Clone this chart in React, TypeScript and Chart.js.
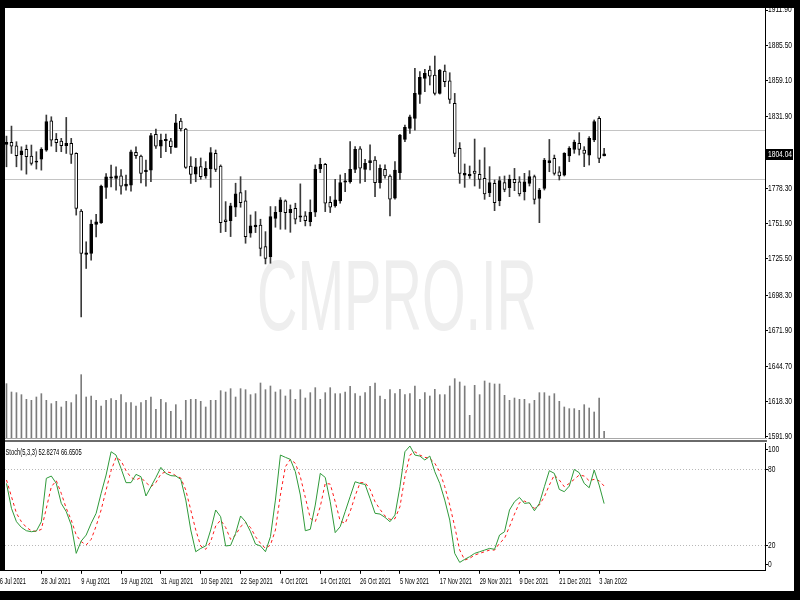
import React, { useEffect, useRef } from "react";
import { Chart, registerables } from "chart.js";
Chart.register(...registerables);

const FONT = "'Liberation Sans', Arial, sans-serif";

// Daily XAUUSD candles, 19 Jul 2021 .. 4 Jan 2022
const open = [1811.2,1812.7,1810.2,1803.4,1807.4,1802.4,1797.9,1800.2,1806.9,1828.9,1814.9,1813.7,1810.2,1811.9,1804.4,1761.2,1728.7,1729.4,1751.2,1752.4,1778.9,1785.9,1785.7,1787.7,1779.9,1780.7,1805.2,1802.4,1790.7,1791.9,1818.7,1809.9,1813.9,1813.9,1808.9,1828.7,1822.7,1794.9,1788.9,1794.5,1787.5,1792.8,1804.5,1795.0,1754.6,1754.1,1764.1,1775.1,1768.8,1744.6,1749.6,1750.8,1734.6,1727.1,1755.8,1760.8,1768.8,1760.1,1763.3,1756.6,1757.6,1753.3,1760.3,1792.8,1796.3,1767.8,1765.1,1768.8,1782.8,1783.3,1792.5,1807.8,1792.5,1797.5,1799.5,1782.5,1792.5,1787.5,1770.8,1790.0,1815.0,1823.2,1830.7,1848.7,1860.7,1866.9,1863.2,1849.4,1866.2,1858.9,1841.9,1808.2,1788.2,1787.5,1791.2,1788.7,1785.7,1775.0,1782.0,1769.0,1782.5,1778.7,1785.0,1783.2,1775.7,1782.0,1787.0,1770.7,1778.2,1797.5,1800.7,1790.7,1788.2,1802.5,1807.5,1812.0,1807.0,1803.2,1814.5,1830.7,1802.5];
const high = [1817.4,1824.9,1813.2,1809.4,1810.7,1810.7,1805.7,1808.7,1833.2,1831.9,1819.4,1815.7,1831.4,1815.7,1804.9,1762.4,1738.2,1754.4,1758.7,1780.7,1789.4,1795.7,1794.4,1792.4,1788.2,1806.9,1809.4,1803.2,1799.4,1819.4,1822.7,1818.9,1818.9,1815.7,1833.7,1830.7,1823.2,1801.9,1800.7,1801.0,1798.3,1808.8,1807.0,1795.8,1768.3,1767.1,1782.1,1787.0,1776.6,1758.3,1760.8,1755.1,1745.8,1764.6,1764.6,1771.3,1769.6,1765.8,1767.1,1781.6,1760.8,1769.6,1795.8,1800.8,1797.0,1772.1,1785.0,1788.3,1789.5,1813.3,1809.5,1809.5,1800.0,1810.8,1802.0,1795.8,1795.8,1788.3,1798.3,1818.7,1825.7,1833.2,1868.2,1865.7,1867.4,1869.9,1877.4,1867.4,1870.7,1864.9,1849.4,1812.5,1796.5,1795.0,1815.2,1799.5,1808.7,1794.5,1784.5,1787.0,1787.5,1788.2,1793.2,1787.0,1789.5,1791.5,1788.2,1778.2,1800.7,1814.9,1803.2,1794.5,1805.0,1809.5,1814.4,1820.0,1809.5,1817.0,1829.5,1832.0,1808.2];
const low = [1794.4,1804.4,1794.4,1791.9,1788.9,1795.7,1792.7,1791.9,1806.0,1809.9,1805.7,1805.7,1804.4,1796.9,1758.2,1681.9,1718.2,1724.4,1741.9,1751.9,1770.7,1779.4,1776.9,1773.9,1776.9,1776.2,1800.7,1782.4,1779.9,1783.2,1808.2,1801.2,1805.7,1804.4,1808.9,1821.2,1793.2,1781.9,1783.2,1785.0,1785.8,1779.0,1790.8,1745.1,1745.8,1742.1,1757.1,1764.1,1737.1,1741.6,1745.1,1727.6,1721.6,1722.1,1749.1,1747.6,1747.6,1745.3,1751.6,1753.3,1750.1,1750.1,1757.1,1790.0,1760.8,1760.1,1764.1,1767.1,1775.8,1782.1,1790.0,1782.1,1783.3,1792.0,1772.1,1778.3,1785.8,1757.6,1770.1,1785.0,1813.2,1819.5,1821.9,1841.9,1850.7,1855.7,1848.2,1848.9,1854.4,1841.9,1802.0,1782.0,1779.0,1785.7,1780.0,1778.2,1770.0,1772.0,1761.5,1765.2,1775.7,1772.0,1776.5,1772.5,1769.5,1780.0,1766.5,1752.5,1777.0,1790.7,1788.2,1784.5,1787.5,1798.2,1804.5,1803.2,1794.5,1795.7,1813.2,1797.5,1802.5];
const close = [1812.7,1809.9,1802.7,1806.4,1801.9,1796.9,1798.7,1807.4,1828.2,1814.4,1812.4,1810.2,1811.9,1803.7,1763.2,1729.4,1729.9,1751.4,1753.2,1779.9,1786.9,1786.9,1787.7,1779.9,1781.4,1805.7,1802.7,1789.4,1791.9,1817.7,1809.9,1814.4,1814.9,1809.4,1827.4,1822.7,1793.9,1788.7,1794.4,1787.0,1793.3,1805.0,1792.5,1752.6,1753.3,1765.1,1774.1,1767.6,1742.1,1750.1,1750.8,1733.3,1725.8,1757.1,1760.3,1769.6,1760.1,1762.6,1755.1,1757.6,1754.1,1760.3,1792.5,1796.3,1767.1,1764.1,1769.6,1782.5,1783.8,1792.5,1807.5,1793.3,1797.0,1799.0,1782.5,1793.3,1787.5,1770.1,1792.0,1818.2,1824.0,1831.9,1849.4,1861.4,1864.4,1862.4,1849.4,1866.9,1858.2,1844.9,1804.5,1789.5,1789.5,1788.7,1789.5,1785.0,1774.0,1782.5,1767.5,1784.0,1777.5,1785.0,1782.5,1774.0,1783.2,1787.0,1770.0,1777.0,1799.5,1799.0,1789.5,1787.5,1804.5,1808.2,1813.0,1807.5,1804.5,1815.7,1828.2,1800.7,1804.04];
const volume = [244500,207000,204000,195000,174000,169500,184500,199500,169500,154500,165000,139500,165000,159000,195000,285000,184500,189000,169500,144000,169500,177000,169500,195000,159000,159000,144000,159000,169500,184500,129000,174000,159000,120000,150000,79500,169500,174000,174000,165000,139500,169500,169500,213000,207000,222000,184500,222000,217500,195000,199500,247500,217500,234000,207000,217500,189000,217500,174000,217500,180000,204000,226500,174000,204000,226500,199500,199500,207000,232500,199500,189000,204000,232500,247500,189000,174000,217500,199500,219000,195000,199500,234000,174000,204000,189000,219000,195000,195000,234000,267000,252000,234000,102000,237000,195000,256500,247500,243000,243000,192000,169500,180000,174000,174000,154500,169500,204000,204000,189000,199500,165000,139500,132000,132000,124500,150000,135000,117000,180000,30000];
const stochMain = [68.7,49.1,38.6,34.1,31.5,30.7,31.3,38.6,72.7,74.5,68.7,53.0,46.5,36.0,13.7,23.4,28.1,37.3,45.2,60.9,75.3,93.6,91.0,80.5,69.3,69.3,75.8,74.0,58.8,66.1,73.4,81.3,76.6,74.8,74.5,71.9,55.6,32.1,15.0,17.6,19.5,32.1,47.8,42.5,19.5,20.0,29.4,43.1,38.6,30.7,21.0,19.5,15.0,26.8,55.6,91.0,89.2,87.6,77.9,59.6,31.5,32.6,51.7,76.6,73.4,54.3,30.0,34.7,46.5,58.3,70.0,68.7,67.9,56.9,45.2,44.6,42.0,38.6,43.8,66.1,93.6,98.1,91.0,90.2,87.1,90.2,77.9,68.7,55.6,39.9,13.7,6.6,9.0,11.1,13.7,15.0,16.3,17.6,16.9,28.1,30.7,47.8,54.3,57.7,53.0,53.5,47.2,53.0,66.1,78.7,76.6,64.0,62.2,66.6,79.7,77.1,68.7,65.3,79.2,67.4,52.8274];
const stochSignal = [71.4,58.3,45.2,38.6,34.1,31.5,31.0,32.6,49.1,66.1,70.8,60.9,49.1,39.9,28.1,22.9,20.3,24.7,35.2,47.8,63.5,78.7,89.2,86.5,78.7,73.4,71.4,73.4,69.3,66.1,69.3,76.1,77.9,77.1,74.8,72.9,63.5,47.8,32.1,19.5,16.9,22.9,35.2,39.9,34.1,24.7,28.1,34.7,37.8,34.1,26.8,21.6,17.6,20.3,32.1,59.6,81.8,87.6,84.5,74.0,57.7,41.2,38.6,50.4,68.7,68.2,54.3,39.1,37.3,46.5,58.8,69.3,69.3,64.0,54.3,48.3,43.1,40.4,41.0,50.4,74.0,91.0,93.6,91.0,89.2,88.4,84.5,77.9,66.1,51.7,34.7,16.3,8.5,9.8,12.4,13.7,15.0,16.3,16.3,21.6,25.5,34.7,44.6,53.5,54.8,53.0,49.1,51.7,58.3,67.4,75.3,71.4,66.1,68.7,71.9,75.3,74.5,70.8,71.9,70.8,66.6505];

const dateTickIndex = [-2,7,15,23,31,39,47,55,63,71,79,87,95,103,111,119];
const dateTickLabels = ["16 Jul 2021","28 Jul 2021","9 Aug 2021","19 Aug 2021","31 Aug 2021","10 Sep 2021","22 Sep 2021","4 Oct 2021","14 Oct 2021","26 Oct 2021","5 Nov 2021","17 Nov 2021","29 Nov 2021","9 Dec 2021","21 Dec 2021","3 Jan 2022"];
const priceTicks = [1591.9,1618.3,1644.7,1671.9,1698.3,1725.5,1751.9,1778.3,1831.9,1859.1,1885.5,1911.9];
const stochLevelValues = [5,20,80,95];
const stochLevelLabels = ["0","20","80","100"];
const horizontalLevels = [1822.1,1785.2];
const watermark = "CMPRO.IR";
const stochTitle = "Stoch(5,3,3)";

const X_MIN = -0.3, X_MAX = 152.3;
const P_MIN = 1591.15, P_MAX = 1913.4;
const VOL_MAX = 1935000;

// draws a horizontally condensed label (the reference uses a narrow terminal font)
function narrowText(ctx: CanvasRenderingContext2D, text: string, x: number, y: number, sx: number, size = 9) {
  ctx.save();
  ctx.font = `${size}px ${FONT}`;
  ctx.textAlign = "left";
  ctx.textBaseline = "middle";
  ctx.translate(x, y);
  ctx.scale(sx, 1);
  ctx.fillText(text, 0, 0);
  ctx.restore();
}

export default function App() {
  const mainRef = useRef<HTMLCanvasElement>(null);
  const stochRef = useRef<HTMLCanvasElement>(null);

  useEffect(() => {
    const mainPlugin = {
      id: "mainDecor",
      beforeDatasetsDraw(chart: any) {
        const { ctx, chartArea, scales } = chart;
        ctx.save();
        ctx.font = `100px ${FONT}`;
        const w = ctx.measureText(watermark).width;
        ctx.translate(397, 330);
        ctx.scale(280 / w, 1);
        ctx.textAlign = "center";
        ctx.textBaseline = "alphabetic";
        ctx.fillStyle = "#eeeeee";
        ctx.fillText(watermark, 0, 0);
        ctx.restore();
        ctx.save();
        ctx.strokeStyle = "#c4c4c4";
        ctx.lineWidth = 1;
        horizontalLevels.forEach((v) => {
          const y = Math.round(scales.y.getPixelForValue(v)) + 0.5;
          ctx.beginPath();
          ctx.moveTo(chartArea.left, y);
          ctx.lineTo(chartArea.right, y);
          ctx.stroke();
        });
        ctx.restore();
      },
      afterDraw(chart: any) {
        const { ctx, chartArea, scales } = chart;
        ctx.save();
        ctx.fillStyle = "#000";
        scales.y.ticks.forEach((t: any) => {
          narrowText(ctx, t.value.toFixed(2), chartArea.right + 3, scales.y.getPixelForValue(t.value), 0.74);
        });
        const last = close[close.length - 1];
        const y = Math.round(scales.y.getPixelForValue(last));
        ctx.fillStyle = "#000";
        ctx.fillRect(chartArea.right + 1, y - 5, 27, 11);
        ctx.fillStyle = "#fff";
        narrowText(ctx, last.toFixed(2), chartArea.right + 3, y + 0.5, 0.74);
        // window separator
        ctx.fillStyle = "#a8a8a8";
        ctx.fillRect(0, chartArea.bottom, chartArea.right + 2, 1);
        ctx.fillStyle = "#6a6a6a";
        ctx.fillRect(0, chartArea.bottom + 2, chartArea.right + 2, 2);
        ctx.restore();
      },
    };

    const main = new Chart(mainRef.current as HTMLCanvasElement, {
      type: "bar",
      data: {
        datasets: [
          {
            label: "body",
            data: open.map((o, i) => ({ x: i, y: [o, close[i]] })),
            backgroundColor: open.map((o, i) => (close[i] >= o ? "#000000" : "#ffffff")),
            borderColor: "#000000",
            borderWidth: 1,
            borderSkipped: false,
            barThickness: 3,
            grouped: false,
            order: 0,
            yAxisID: "y",
          },
          {
            label: "wick",
            data: low.map((l, i) => ({ x: i, y: [l, high[i]] })),
            backgroundColor: "#3a3a3a",
            barThickness: 1,
            grouped: false,
            order: 1,
            yAxisID: "y",
          },
          {
            label: "volume",
            data: volume.map((v, i) => ({ x: i, y: v })),
            backgroundColor: "#7c7c7c",
            barThickness: 1,
            grouped: false,
            order: 2,
            yAxisID: "yv",
          },
        ],
      } as any,
      options: {
        responsive: false,
        animation: false,
        events: [],
        layout: { padding: { top: 8, left: 5, right: 5, bottom: 8 } },
        plugins: { legend: { display: false }, tooltip: { enabled: false } },
        scales: {
          x: { type: "linear", min: X_MIN, max: X_MAX, display: false, offset: false, grid: { offset: false } },
          y: {
            type: "linear",
            position: "right",
            min: P_MIN,
            max: P_MAX,
            afterBuildTicks: (s: any) => {
              s.ticks = priceTicks.map((v) => ({ value: v }));
            },
            afterFit: (s: any) => {
              s.width = 30;
              s.paddingTop = 0;
              s.paddingBottom = 0;
            },
            ticks: { display: false },
            grid: { drawOnChartArea: false, drawTicks: true, tickLength: 3, color: "#000" },
            border: { display: true, color: "#000" },
          },
          yv: { type: "linear", display: false, min: 0, max: VOL_MAX },
        },
      } as any,
      plugins: [mainPlugin],
    });

    const stochPlugin = {
      id: "stochDecor",
      afterDraw(chart: any) {
        const { ctx, chartArea, scales } = chart;
        ctx.save();
        ctx.fillStyle = "#000";
        const k = stochMain[stochMain.length - 1].toFixed(4);
        const d = stochSignal[stochSignal.length - 1].toFixed(4);
        narrowText(ctx, `${stochTitle} ${k} ${d}`, chartArea.left + 0.5, chartArea.top + 8.5, 0.64);
        scales.y.ticks.forEach((t: any, i: number) => {
          narrowText(ctx, stochLevelLabels[i], chartArea.right + 3, scales.y.getPixelForValue(t.value), 0.74);
        });
        scales.x.ticks.forEach((t: any, i: number) => {
          narrowText(ctx, dateTickLabels[i], scales.x.getPixelForValue(t.value), chartArea.bottom + 11, 0.63);
        });
        ctx.restore();
      },
    };

    const stoch = new Chart(stochRef.current as HTMLCanvasElement, {
      type: "line",
      data: {
        datasets: [
          {
            data: stochMain.map((v, i) => ({ x: i, y: v })),
            borderColor: "#2f9a3a",
            borderWidth: 1,
            pointRadius: 0,
            tension: 0,
          },
          {
            data: stochSignal.map((v, i) => ({ x: i, y: v })),
            borderColor: "#ff1a1a",
            borderWidth: 1,
            borderDash: [3, 3],
            pointRadius: 0,
            tension: 0,
          },
        ],
      } as any,
      options: {
        responsive: false,
        animation: false,
        events: [],
        layout: { padding: { top: 3.6, left: 5, right: 5, bottom: 9.2 } },
        plugins: { legend: { display: false }, tooltip: { enabled: false } },
        scales: {
          x: {
            type: "linear",
            min: X_MIN,
            max: X_MAX,
            offset: false,
            afterBuildTicks: (s: any) => {
              s.ticks = dateTickIndex.map((v) => ({ value: v }));
            },
            afterFit: (s: any) => {
              s.height = 20;
              s.paddingLeft = 0;
              s.paddingRight = 0;
            },
            ticks: { display: false, autoSkip: false },
            grid: { drawOnChartArea: false, drawTicks: true, tickLength: 3, color: "#000", offset: false },
            border: { display: true, color: "#000" },
          },
          y: {
            type: "linear",
            position: "right",
            min: 0,
            max: 100,
            afterBuildTicks: (s: any) => {
              s.ticks = stochLevelValues.map((v) => ({ value: v }));
            },
            afterFit: (s: any) => {
              s.width = 30;
              s.paddingTop = 0;
              s.paddingBottom = 0;
            },
            ticks: { display: false },
            grid: {
              drawOnChartArea: true,
              drawTicks: true,
              tickLength: 3,
              tickColor: "#000",
              color: (c: any) => (c.tick && (c.tick.value === 20 || c.tick.value === 80) ? "#b8b8b8" : "rgba(0,0,0,0)"),
            },
            border: { display: true, color: "#000", dash: [1, 2] },
          },
        },
      } as any,
      plugins: [stochPlugin],
    });

    return () => {
      main.destroy();
      stoch.destroy();
    };
  }, []);

  return (
    <div style={{ position: "fixed", left: 0, top: 0, width: 800, height: 600, background: "#fff", overflow: "hidden" }}>
      <canvas ref={mainRef} width={800} height={446} style={{ position: "absolute", left: 0, top: 0 }} />
      <canvas ref={stochRef} width={800} height={160} style={{ position: "absolute", left: 0, top: 440 }} />
      <div style={{ position: "absolute", left: 0, top: 0, width: 800, height: 8, background: "#000" }} />
      <div style={{ position: "absolute", left: 0, top: 0, width: 5, height: 571, background: "#000" }} />
      <div style={{ position: "absolute", left: 794, top: 0, width: 6, height: 600, background: "#000" }} />
      <div style={{ position: "absolute", left: 0, top: 591, width: 800, height: 9, background: "#000" }} />
    </div>
  );
}
